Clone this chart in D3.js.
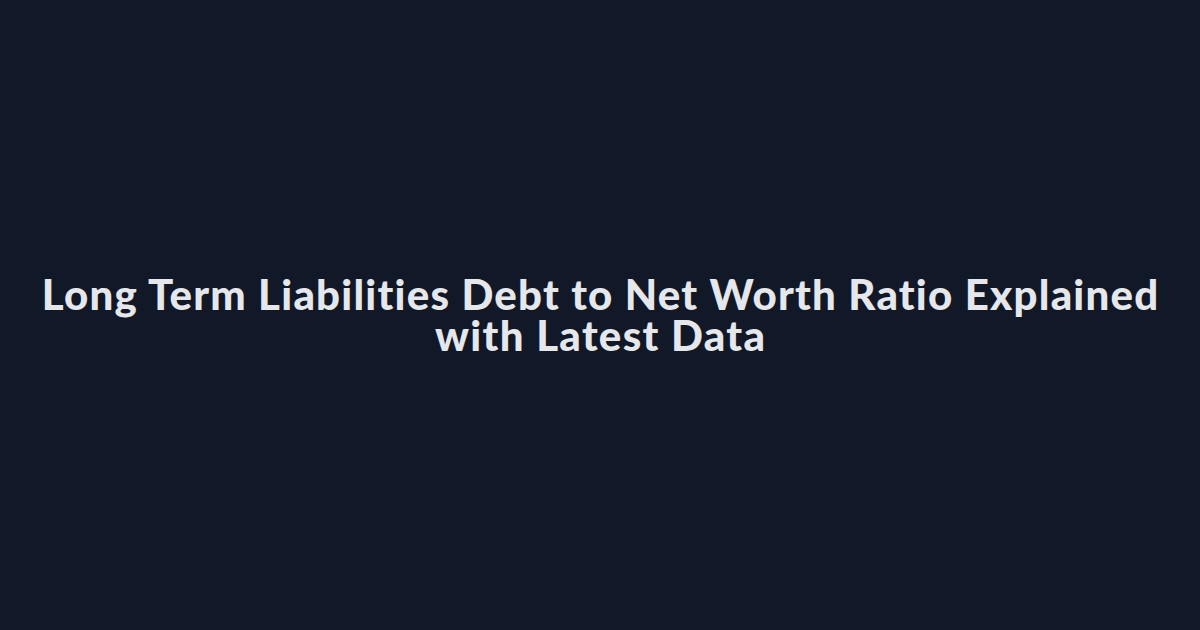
<!DOCTYPE html>
<html>
<head>
<meta charset="utf-8">
<script src="https://cdn.jsdelivr.net/npm/d3@7"></script>
<style>
  html, body { margin: 0; padding: 0; background: #111827; }
  svg { display: block; }
</style>
</head>
<body>
<svg id="card"></svg>
<script>
const width = 1200;
const height = 630;

// title lines and the width each one spans in the reference
const titleLines = ["Long Term Liabilities Debt to Net Worth Ratio Explained", "with Latest Data"];
const lineWidths = [1118, 330];

const svg = d3.select('#card')
    .attr('width', width)
    .attr('height', height);

svg.append('rect')
    .attr('width', width)
    .attr('height', height)
    .attr('fill', '#111827');

const y = d3.scaleBand()
    .domain(titleLines)
    .range([270, 352])
    .paddingInner(0);

// one text block, one tspan per line
const title = svg.append('text')
    .attr('text-anchor', 'middle')
    .style('font-family', 'Lato, "Open Sans", sans-serif')
    .style('font-weight', 900)
    .style('font-size', '42px')
    .style('fill', '#e5e7eb');

const lines = title.selectAll('tspan')
    .data(titleLines)
    .enter().append('tspan')
    .attr('x', width / 2)
    .attr('y', d => y(d) + y.bandwidth() - 1)
    .text(d => d);

// stretch spacing so each line spans the same width as the reference
lines.each(function (d, i) {
    const w = this.getComputedTextLength();
    const extra = (lineWidths[i] - w) / (d.length - 1);
    d3.select(this).style('letter-spacing', `${extra}px`)
        .attr('x', width / 2 + extra / 2);
});
</script>
</body>
</html>
